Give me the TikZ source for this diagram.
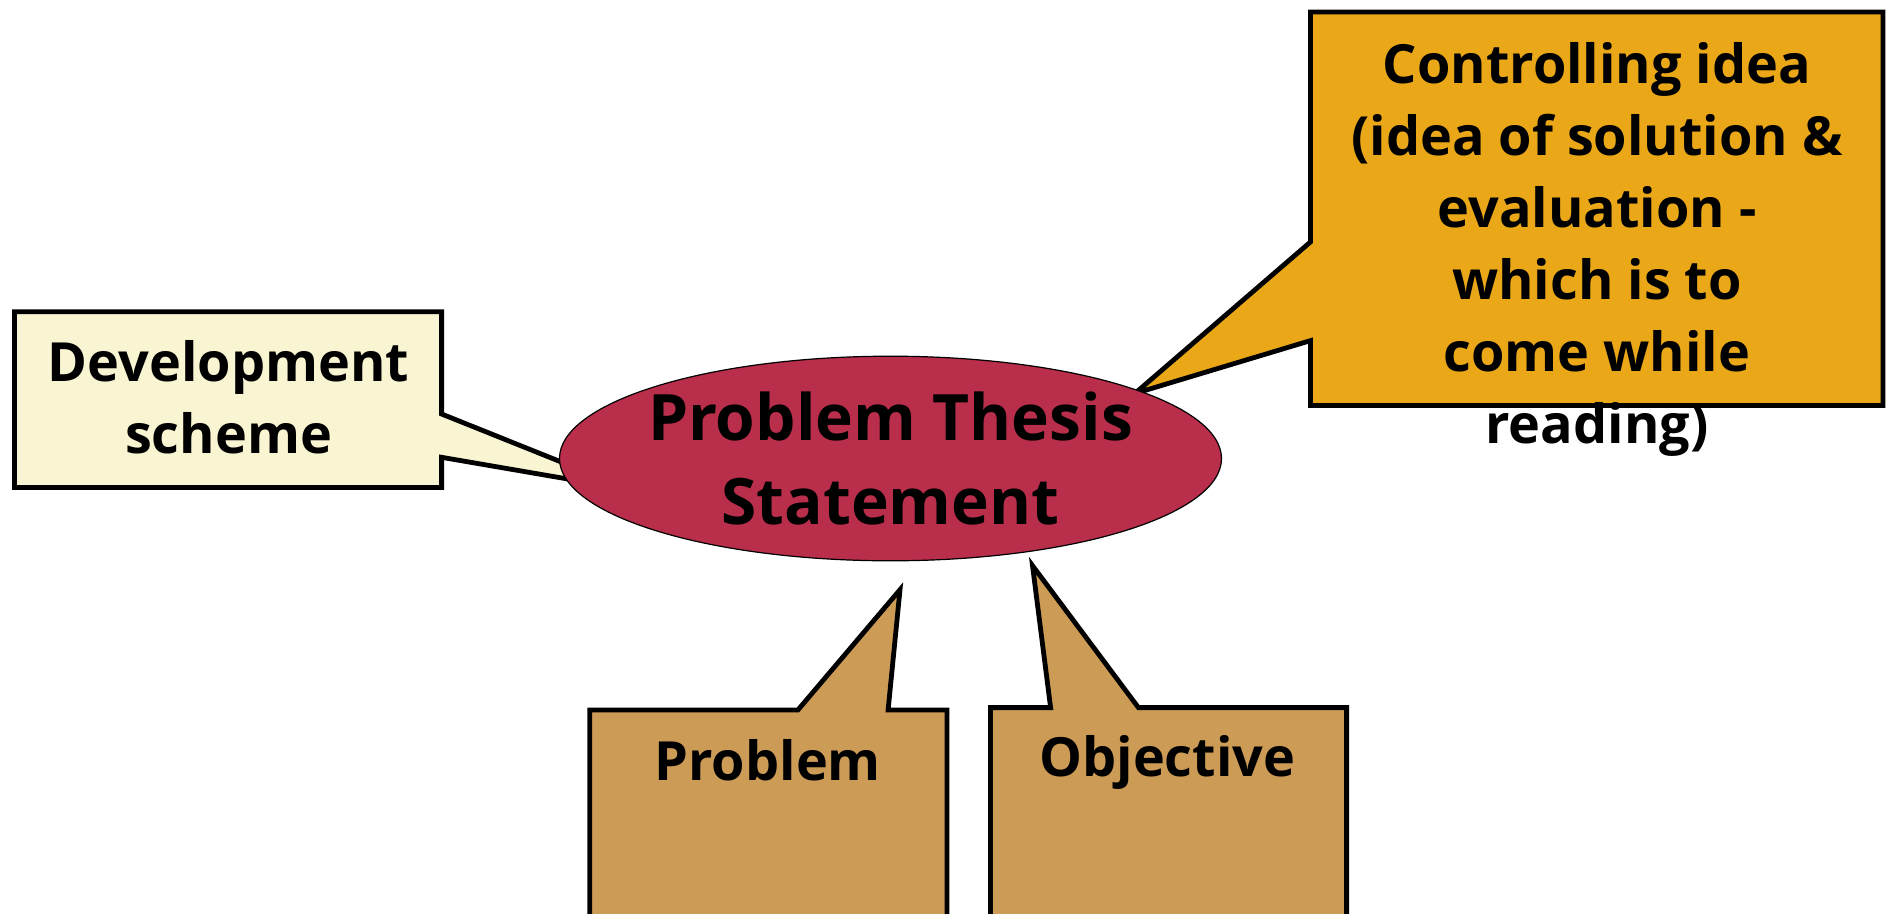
\documentclass[tikz,border=0pt]{standalone}
\usepackage{fontspec}
\setmainfont{Open Sans}
\usetikzlibrary{shapes.geometric}
\definecolor{devfill}{RGB}{249,245,210}
\definecolor{ctlfill}{RGB}{234,168,24}
\definecolor{tanfill}{RGB}{204,155,85}
\definecolor{thesisfill}{RGB}{185,46,74}
\begin{document}
\begin{tikzpicture}[x=1pt,y=-1pt,
  callout/.style={draw=black,line width=4.8pt,line join=miter},
  lbl/.style={font=\bfseries\fontsize{54}{72}\selectfont,align=center,inner sep=0pt},
  biglbl/.style={font=\bfseries\fontsize{64}{84}\selectfont,align=center,inner sep=0pt},
]
\useasboundingbox (0,0) rectangle (1887,913);
\clip (0,0) rectangle (1887,913);
\fill[white] (0,0) rectangle (1887,913);
% callouts
\draw[callout,fill=devfill] (14.4,311.7) -- (441.6,311.7) -- (441.6,414) -- (630.6,489.8) -- (441.6,457.3) -- (441.6,487.4) -- (14.4,487.4) -- cycle;
\draw[callout,fill=ctlfill] (1310.5,12) -- (1883,12) -- (1883,405.5) -- (1310.5,405.5) -- (1310.5,340.6) -- (1134.8,393.5) -- (1310.5,241.9) -- cycle;
\draw[callout,fill=tanfill] (589.7,950) -- (589.7,710) -- (797.9,710) -- (900,589.7) -- (888.1,710) -- (947,710) -- (947,950) -- cycle;
\draw[callout,fill=tanfill] (990.4,950) -- (990.4,707.6) -- (1050.6,707.6) -- (1032.5,565.6) -- (1138.4,707.6) -- (1346.6,707.6) -- (1346.6,950) -- cycle;
% central ellipse
\node[ellipse,draw=black,line width=1.2pt,fill=thesisfill,minimum width=662pt,minimum height=204.6pt,inner sep=0pt] (thesis) at (890.5,458.5) {};
\node[biglbl] (thesistxt) at (thesis.center) {Problem Thesis\\Statement};
% labels
\node[lbl] (devtxt) at (228.6,397) {Development\\scheme};
\node[lbl] (ctltxt) at (1597,249) {Controlling idea\\(idea of solution \&\\evaluation -\\which is to\\come while\\reading)};
\node[lbl,anchor=base] (probtxt) at (767.8,780) {Problem};
\node[lbl,anchor=base] (objtxt) at (1167.3,776) {Objective};
\end{tikzpicture}
\end{document}
